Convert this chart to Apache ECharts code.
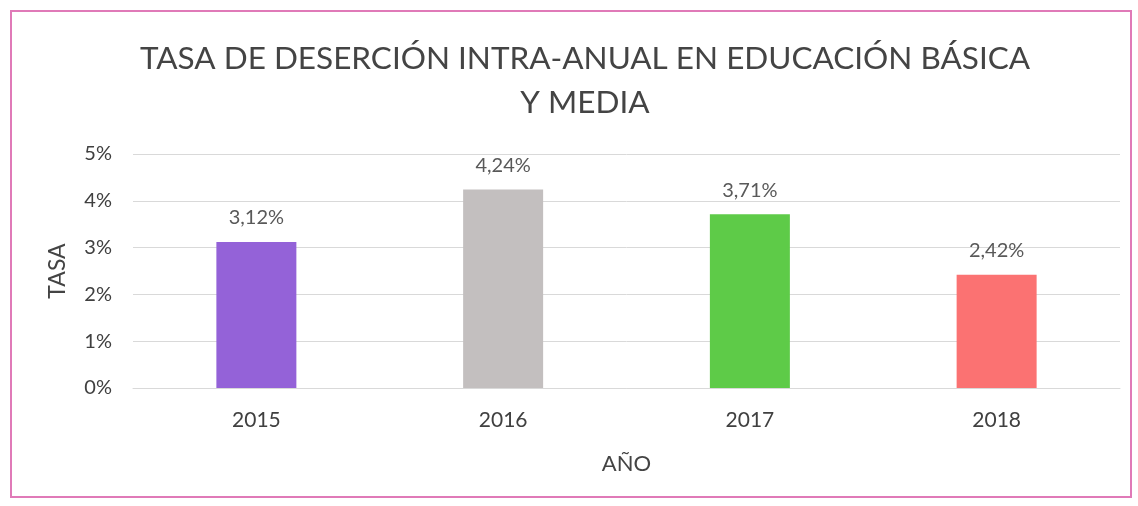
<!DOCTYPE html>
<html><head><meta charset="utf-8">
<script src="https://cdn.jsdelivr.net/npm/echarts@6/dist/echarts.min.js"></script>
<style>html,body{margin:0;padding:0;background:#fff}#c{width:1138px;height:506px}
#frame{position:absolute;left:10px;top:10px;width:1122px;height:488px;border:2px solid #e07ab8;box-sizing:border-box;pointer-events:none}</style>
</head><body><div id="c"></div><div id="frame"></div>
<script>
const categories = ['2015', '2016', '2017', '2018'];
const values = [3.12, 4.24, 3.71, 2.42];
const labels = ['3,12%', '4,24%', '3,71%', '2,42%'];
const colors = ['#9462d8', '#c3bfbf', '#5ecb48', '#fb7272'];
const yTicks = [0, 1, 2, 3, 4, 5];

const chart = echarts.init(document.getElementById('c'));
const font = 'Lato, "Open Sans", sans-serif';
chart.setOption({
  animation: false,
  title: {
    text: 'TASA DE DESERCIÓN INTRA-ANUAL EN EDUCACIÓN BÁSICA\nY MEDIA',
    left: 580, textAlign: 'center', top: 32,
    textStyle: { fontFamily: font, fontSize: 31.5, fontWeight: 'normal', color: '#444', lineHeight: 44 }
  },
  grid: { left: 133, right: 18, top: 154, bottom: 118 },
  xAxis: {
    type: 'category', data: categories,
    name: 'AÑO', nameLocation: 'middle', nameGap: 65,
    nameTextStyle: { fontFamily: font, fontSize: 22, color: '#444' },
    axisLine: { show: true, lineStyle: { color: '#d9d9d9' } },
    axisTick: { show: false },
    axisLabel: { fontFamily: font, fontSize: 21, color: '#404040', margin: 22 }
  },
  yAxis: {
    type: 'value', min: 0, max: 5, interval: 1,
    name: 'TASA', nameLocation: 'middle', nameGap: 64, nameRotate: 90,
    nameTextStyle: { fontFamily: font, fontSize: 23, color: '#444' },
    axisLine: { show: false }, axisTick: { show: false },
    axisLabel: { fontFamily: font, fontSize: 20, color: '#404040', margin: 21,
      formatter: v => yTicks.includes(v) ? v + '%' : '' },
    splitLine: { lineStyle: { color: '#d9d9d9', width: 1 } }
  },
  series: [{
    type: 'bar', barWidth: 80,
    data: values.map((v, i) => ({ value: v, itemStyle: { color: colors[i] } })),
    label: { show: true, position: 'top', distance: 14, fontFamily: font, fontSize: 20, color: '#595959',
      formatter: p => labels[p.dataIndex] }
  }]
});
</script></body></html>
